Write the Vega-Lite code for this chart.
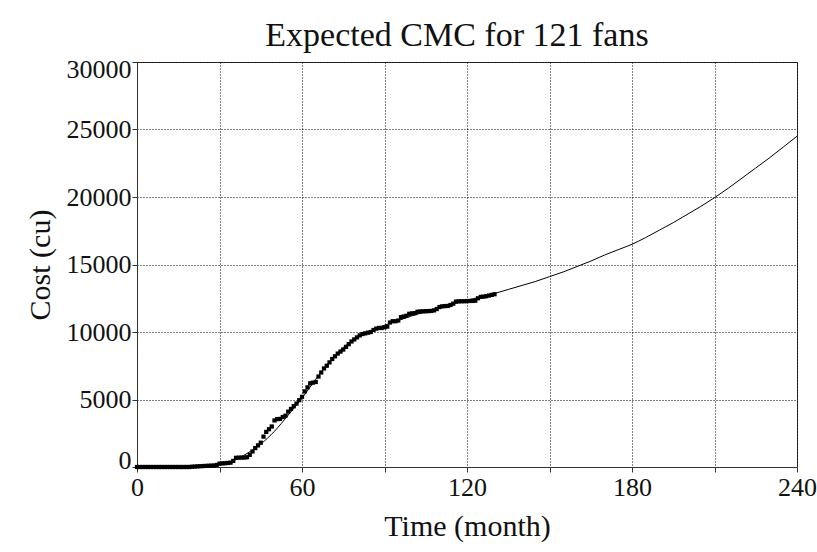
{
  "$schema": "https://vega.github.io/schema/vega-lite/v6.json",
  "width": 660,
  "height": 405,
  "autosize": {"type": "none"},
  "padding": {"left": 137, "top": 62, "right": 20, "bottom": 85},
  "background": "white",
  "title": {
    "text": "Expected CMC for 121 fans",
    "font": "Liberation Serif",
    "fontSize": 34,
    "fontWeight": "normal",
    "color": "#111",
    "baseline": "alphabetic",
    "offset": 9,
    "dx": -10,
    "dy": 33
  },
  "config": {
    "view": {"stroke": "#333", "strokeWidth": 1},
    "axis": {
      "labelFont": "Liberation Serif",
      "titleFont": "Liberation Serif",
      "labelFontSize": 26,
      "titleFontSize": 30,
      "titleFontWeight": "normal",
      "labelColor": "#111",
      "titleColor": "#111",
      "domainColor": "#333",
      "tickColor": "#333",
      "tickSize": 5,
      "gridColor": "#000",
      "gridDash": [1, 2],
      "gridWidth": 1,
      "gridOpacity": 1,
      "format": "d"
    }
  },
  "datasets": {
    "observed": [
      {"t": 0, "v": 0}, {"t": 1, "v": 0}, {"t": 2, "v": 0}, {"t": 3, "v": 0}, {"t": 4, "v": 0},
      {"t": 5, "v": 0}, {"t": 6, "v": 0}, {"t": 7, "v": 0}, {"t": 8, "v": 0}, {"t": 9, "v": 0},
      {"t": 10, "v": 0}, {"t": 11, "v": 0}, {"t": 12, "v": 0}, {"t": 13, "v": 0}, {"t": 14, "v": 0},
      {"t": 15, "v": 0}, {"t": 16, "v": 0}, {"t": 17, "v": 0}, {"t": 18, "v": 0}, {"t": 19, "v": 0},
      {"t": 20, "v": 20}, {"t": 21, "v": 30}, {"t": 22, "v": 50}, {"t": 23, "v": 60}, {"t": 24, "v": 70},
      {"t": 25, "v": 80}, {"t": 26, "v": 90}, {"t": 27, "v": 100}, {"t": 28, "v": 110}, {"t": 29, "v": 150},
      {"t": 30, "v": 250}, {"t": 31, "v": 270}, {"t": 32, "v": 280}, {"t": 33, "v": 300}, {"t": 34, "v": 320},
      {"t": 35, "v": 450}, {"t": 36, "v": 680}, {"t": 37, "v": 690}, {"t": 38, "v": 700}, {"t": 39, "v": 700},
      {"t": 40, "v": 720}, {"t": 41, "v": 900}, {"t": 42, "v": 1150}, {"t": 43, "v": 1400}, {"t": 44, "v": 1600},
      {"t": 45, "v": 1800}, {"t": 46, "v": 2250}, {"t": 47, "v": 2600}, {"t": 48, "v": 2800}, {"t": 49, "v": 3000},
      {"t": 50, "v": 3450}, {"t": 51, "v": 3550}, {"t": 52, "v": 3560}, {"t": 53, "v": 3700}, {"t": 54, "v": 3800},
      {"t": 55, "v": 4100}, {"t": 56, "v": 4300}, {"t": 57, "v": 4500}, {"t": 58, "v": 4700}, {"t": 59, "v": 4950},
      {"t": 60, "v": 5200}, {"t": 61, "v": 5600}, {"t": 62, "v": 5900}, {"t": 63, "v": 6200}, {"t": 64, "v": 6250},
      {"t": 65, "v": 6300}, {"t": 66, "v": 6700}, {"t": 67, "v": 7000}, {"t": 68, "v": 7300}, {"t": 69, "v": 7500},
      {"t": 70, "v": 7750}, {"t": 71, "v": 8000}, {"t": 72, "v": 8200}, {"t": 73, "v": 8400}, {"t": 74, "v": 8550},
      {"t": 75, "v": 8700}, {"t": 76, "v": 8900}, {"t": 77, "v": 9100}, {"t": 78, "v": 9300}, {"t": 79, "v": 9450},
      {"t": 80, "v": 9600}, {"t": 81, "v": 9750}, {"t": 82, "v": 9850}, {"t": 83, "v": 9900}, {"t": 84, "v": 9950},
      {"t": 85, "v": 10000}, {"t": 86, "v": 10150}, {"t": 87, "v": 10250}, {"t": 88, "v": 10300}, {"t": 89, "v": 10300},
      {"t": 90, "v": 10350}, {"t": 91, "v": 10400}, {"t": 92, "v": 10700}, {"t": 93, "v": 10800}, {"t": 94, "v": 10800},
      {"t": 95, "v": 10850}, {"t": 96, "v": 11100}, {"t": 97, "v": 11150}, {"t": 98, "v": 11200}, {"t": 99, "v": 11350},
      {"t": 100, "v": 11380}, {"t": 101, "v": 11400}, {"t": 102, "v": 11500}, {"t": 103, "v": 11520}, {"t": 104, "v": 11530},
      {"t": 105, "v": 11540}, {"t": 106, "v": 11550}, {"t": 107, "v": 11560}, {"t": 108, "v": 11600}, {"t": 109, "v": 11700},
      {"t": 110, "v": 11850}, {"t": 111, "v": 11900}, {"t": 112, "v": 11920}, {"t": 113, "v": 11930}, {"t": 114, "v": 12000},
      {"t": 115, "v": 12100}, {"t": 116, "v": 12250}, {"t": 117, "v": 12270}, {"t": 118, "v": 12280}, {"t": 119, "v": 12280},
      {"t": 120, "v": 12290}, {"t": 121, "v": 12300}, {"t": 122, "v": 12300}, {"t": 123, "v": 12320}, {"t": 124, "v": 12500},
      {"t": 125, "v": 12600}, {"t": 126, "v": 12620}, {"t": 127, "v": 12650}, {"t": 128, "v": 12700}, {"t": 129, "v": 12750},
      {"t": 130, "v": 12800}
    ],
    "expected": [
      {"t": 0, "v": 0}, {"t": 5, "v": 0}, {"t": 10, "v": 0}, {"t": 15, "v": 2}, {"t": 20, "v": 10},
      {"t": 25, "v": 40}, {"t": 30, "v": 150}, {"t": 35, "v": 450}, {"t": 40, "v": 1000}, {"t": 45, "v": 1700},
      {"t": 50, "v": 2650}, {"t": 55, "v": 3850}, {"t": 60, "v": 5100}, {"t": 65, "v": 6500}, {"t": 70, "v": 7800},
      {"t": 75, "v": 8850}, {"t": 80, "v": 9600}, {"t": 85, "v": 10100}, {"t": 90, "v": 10500}, {"t": 95, "v": 10850},
      {"t": 100, "v": 11200}, {"t": 105, "v": 11500}, {"t": 110, "v": 11800}, {"t": 115, "v": 12100}, {"t": 120, "v": 12350},
      {"t": 125, "v": 12600}, {"t": 130, "v": 12850}, {"t": 135, "v": 13150}, {"t": 140, "v": 13450}, {"t": 145, "v": 13750},
      {"t": 150, "v": 14100}, {"t": 155, "v": 14450}, {"t": 160, "v": 14850}, {"t": 165, "v": 15250}, {"t": 170, "v": 15700},
      {"t": 175, "v": 16100}, {"t": 180, "v": 16500}, {"t": 185, "v": 17000}, {"t": 190, "v": 17550}, {"t": 195, "v": 18100},
      {"t": 200, "v": 18700}, {"t": 205, "v": 19300}, {"t": 210, "v": 19950}, {"t": 215, "v": 20650}, {"t": 220, "v": 21400},
      {"t": 225, "v": 22150}, {"t": 230, "v": 22900}, {"t": 235, "v": 23700}, {"t": 240, "v": 24500}
    ]
  },
  "layer": [
    {
      "data": {"name": "observed"},
      "mark": {"type": "square", "size": 18, "color": "#000", "opacity": 1, "filled": true},
      "encoding": {
        "x": {
          "field": "t", "type": "quantitative",
          "scale": {"domain": [0, 240], "nice": false},
          "axis": {
            "title": "Time (month)",
            "values": [0, 30, 60, 90, 120, 150, 180, 210, 240],
            "labelExpr": "datum.value % 60 == 0 ? datum.label : ''",
            "labelFlush": false,
            "labelPadding": 2,
            "titleY": 68,
            "titleBaseline": "alphabetic"
          }
        },
        "y": {
          "field": "v", "type": "quantitative",
          "scale": {"domain": [0, 30000], "nice": false},
          "axis": {
            "title": "Cost (cu)",
            "values": [0, 5000, 10000, 15000, 20000, 25000, 30000],
            "labelFlush": true,
            "labelFlushOffset": 6,
            "labelPadding": 1,
            "titleX": -82,
            "titleBaseline": "bottom"
          }
        }
      }
    },
    {
      "data": {"name": "expected"},
      "mark": {"type": "line", "color": "#000", "strokeWidth": 1, "interpolate": "monotone"},
      "encoding": {
        "x": {"field": "t", "type": "quantitative"},
        "y": {"field": "v", "type": "quantitative"}
      }
    }
  ]
}
